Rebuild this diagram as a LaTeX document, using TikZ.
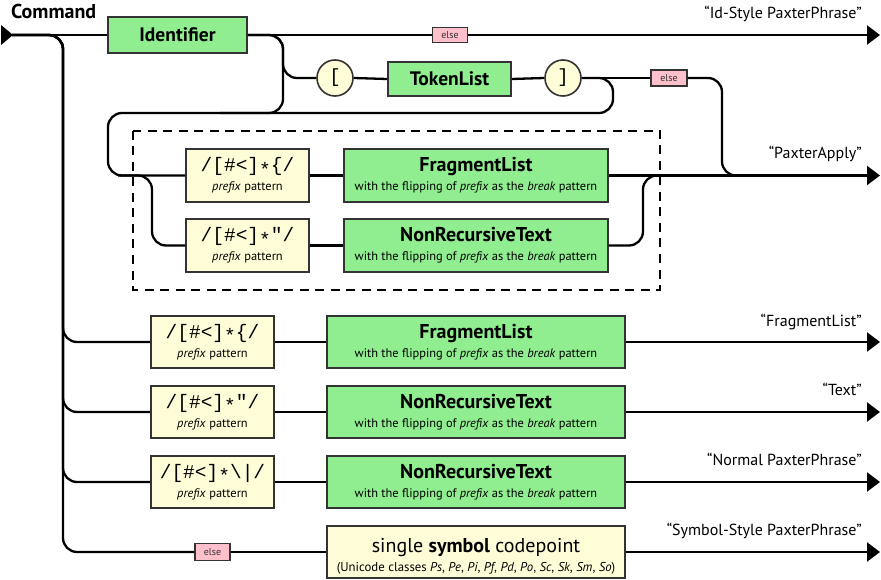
\documentclass[tikz,border=0pt]{standalone}
\usepackage{fontspec}
\setmainfont{PT Sans}
\newfontfamily\patfont{Liberation Mono}
\usetikzlibrary{arrows.meta}
\definecolor{boxgreen}{HTML}{90EE90}
\definecolor{boxyellow}{HTML}{FFFDD8}
\definecolor{boxpink}{HTML}{FFC0CB}
\definecolor{edgegray}{HTML}{333333}
\newcommand\fsz[1]{\fontsize{#1}{#1}\selectfont}
\newcommand\pstar{\raisebox{-0.22em}{*}}
\begin{document}
\begin{tikzpicture}[x=1pt,y=-1pt,
  conn/.style={line width=2.3pt, rounded corners=14pt},
  arr/.style={conn, -{Triangle[length=13pt,width=19pt]}},
  boxb/.style={draw=edgegray, line width=1.6pt, inner sep=0pt},
  nterm/.style={boxb, fill=boxgreen},
  termbox/.style={boxb, fill=boxyellow},
  patbox/.style={termbox, minimum width=123pt, minimum height=53pt},
  innerbig/.style={nterm, minimum width=264pt, minimum height=53pt},
  outerbig/.style={nterm, minimum width=298pt, minimum height=52pt},
  elsebox/.style={boxb, fill=boxpink, line width=1.3pt, minimum width=35pt, minimum height=15pt, font=\fsz{10}, text=black!80},
  circ/.style={termbox, circle, minimum size=36pt, font=\patfont\fsz{19}},
  ttl/.style={inner sep=0pt, anchor=base, font=\fsz{20}\bfseries},
  sub/.style={inner sep=0pt, anchor=base, font=\fsz{12.4}},
  pat/.style={inner sep=0pt, anchor=base, font=\patfont\fsz{19.5}},
  lbl/.style={inner sep=0pt, anchor=base east, font=\fsz{16}},
  dbox/.style={draw, line width=1.5pt, dash pattern=on 9pt off 6.5pt}
]
\useasboundingbox (0,0) rectangle (881,580);
% title and start
\node[inner sep=0pt, anchor=base west, font=\fsz{20}\bfseries] (title) at (11,18.5) {Command};
\fill (1,25) -- (13,35) -- (1,45) -- cycle;
\coordinate (start) at (12,35);

% dashed group
\draw[dbox] (133,131) rectangle (660,290);

% nodes
\node[nterm, minimum width=139pt, minimum height=36pt] (idf) at (177.5,35) {};
\node[ttl, font=\fsz{19.5}\bfseries] (idft) at (177.5,41.7) {Identifier};
\node[elsebox] (e1) at (450,35) {else};
\node[circ] (lb) at (335,78) {[};
\node[nterm, minimum width=123pt, minimum height=34pt] (tl) at (449.5,79) {};
\node[ttl, font=\fsz{19.5}\bfseries] (tlt) at (449.5,86) {TokenList};
\node[circ] (rb) at (563,78) {]};
\node[elsebox, minimum width=36pt, minimum height=16pt] (e2) at (669,78) {else};

\node[patbox] (p1) at (247.5,175.5) {};
\node[pat] (p1a) at (247.5,172) {/[\#<]\pstar\{/};
\node[sub] (p1b) at (247.5,190.5) {\textit{prefix} pattern};
\node[innerbig] (f1) at (476,175.5) {};
\node[ttl] (f1a) at (476,172) {FragmentList};
\node[sub] (f1b) at (476,191) {with the flipping of \textit{prefix} as the \textit{break} pattern};

\node[patbox] (p2) at (247.5,245.5) {};
\node[pat] (p2a) at (247.5,242) {/[\#<]\pstar"/};
\node[sub] (p2b) at (247.5,260.5) {\textit{prefix} pattern};
\node[innerbig] (n2) at (476,245.5) {};
\node[ttl] (n2a) at (476,242) {NonRecursiveText};
\node[sub] (n2b) at (476,261) {with the flipping of \textit{prefix} as the \textit{break} pattern};

\node[patbox, minimum height=52pt] (p3) at (212.5,342) {};
\node[pat] (p3a) at (212.5,338.5) {/[\#<]\pstar\{/};
\node[sub] (p3b) at (212.5,357) {\textit{prefix} pattern};
\node[outerbig] (f3) at (476,342) {};
\node[ttl] (f3a) at (476,338.5) {FragmentList};
\node[sub] (f3b) at (476,357.5) {with the flipping of \textit{prefix} as the \textit{break} pattern};

\node[patbox, minimum height=52pt] (p4) at (212.5,412) {};
\node[pat] (p4a) at (212.5,408.5) {/[\#<]\pstar"/};
\node[sub] (p4b) at (212.5,427) {\textit{prefix} pattern};
\node[outerbig] (n4) at (476,412) {};
\node[ttl] (n4a) at (476,408.5) {NonRecursiveText};
\node[sub] (n4b) at (476,427.5) {with the flipping of \textit{prefix} as the \textit{break} pattern};

\node[patbox, minimum height=52pt] (p5) at (212.5,482) {};
\node[pat] (p5a) at (212.5,478.5) {/[\#<]\pstar\textbackslash|/};
\node[sub] (p5b) at (212.5,497) {\textit{prefix} pattern};
\node[outerbig] (n5) at (476,482) {};
\node[ttl] (n5a) at (476,478.5) {NonRecursiveText};
\node[sub] (n5b) at (476,497.5) {with the flipping of \textit{prefix} as the \textit{break} pattern};

\node[elsebox, minimum height=17pt] (e6) at (212.5,552) {else};
\node[termbox, minimum width=298pt, minimum height=52pt] (sym) at (476,552) {};
\node[inner sep=0pt, anchor=base, font=\fsz{20}] (syma) at (476,552) {single \textbf{symbol} codepoint};
\node[sub, font=\fsz{12.8}] (symb) at (476,571.5) {(Unicode classes \textit{Ps}, \textit{Pe}, \textit{Pi}, \textit{Pf}, \textit{Pd}, \textit{Po}, \textit{Sc}, \textit{Sk}, \textit{Sm}, \textit{So})};

% labels
\node[lbl] (l1) at (862,18.5) {“Id-Style PaxterPhrase”};
\node[lbl] (l2) at (862,158.5) {“PaxterApply”};
\node[lbl] (l3) at (862,326.5) {“FragmentList”};
\node[lbl] (l4) at (862,395.5) {“Text”};
\node[lbl] (l5) at (862,465.5) {“Normal PaxterPhrase”};
\node[lbl] (l6) at (862,535.5) {“Symbol-Style PaxterPhrase”};

% end coordinates
\coordinate (endA) at (880,35);
\coordinate (endB) at (880,175.5);
\coordinate (endC) at (880,342);
\coordinate (endD) at (880,412);
\coordinate (endE) at (880,482);
\coordinate (endF) at (880,552);

% main line
\draw[conn] (start) -- (idf.west);
\draw[conn] (idf.east) -- (e1.west);
\draw[arr] (e1.east) -- (endA);

% after Identifier
\draw[conn] (idf.east) -- (283,35) -- (283,78) -- (lb.west);
\draw[conn] (idf.east) -- (283,35) -- (283,113) -- (220,113);
\draw[conn] (lb.east) -- (tl.west);
\draw[conn] (tl.east) -- (rb.west);
\draw[conn] (rb.east) -- (e2.west);
\draw[conn] (e2.east) -- (722,78) -- (722,175.5) -- (770,175.5);
\draw[conn] (rb.east) -- (613,78) -- (613,113) -- (108,113) -- (108,175.5) -- (p1.west);
\draw[conn] (118,175.5) -- (152,175.5) -- (152,245.5) -- (p2.west);
\draw[conn] (p1.east) -- (f1.west);
\draw[arr] (f1.east) -- (endB);
\draw[conn] (p2.east) -- (n2.west);
\draw[conn] (n2.east) -- (643,245.5) -- (643,175.5) -- (680,175.5);

% lower branches
\draw[conn] (start) -- (63,35) -- (63,342) -- (p3.west);
\draw[conn] (start) -- (63,35) -- (63,412) -- (p4.west);
\draw[conn] (start) -- (63,35) -- (63,482) -- (p5.west);
\draw[conn] (start) -- (63,35) -- (63,552) -- (e6.west);
\draw[conn] (p3.east) -- (f3.west);
\draw[arr] (f3.east) -- (endC);
\draw[conn] (p4.east) -- (n4.west);
\draw[arr] (n4.east) -- (endD);
\draw[conn] (p5.east) -- (n5.west);
\draw[arr] (n5.east) -- (endE);
\draw[conn] (e6.east) -- (sym.west);
\draw[arr] (sym.east) -- (endF);
\end{tikzpicture}
\end{document}
